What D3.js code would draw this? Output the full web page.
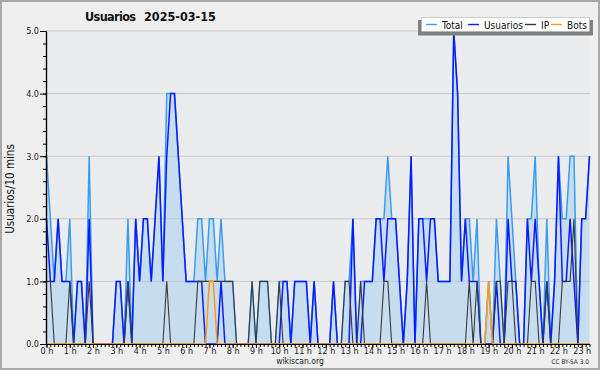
<!DOCTYPE html>
<html>
<head>
<meta charset="utf-8">
<script src="https://cdn.jsdelivr.net/npm/d3@7"></script>
<style>
  html, body { margin: 0; padding: 0; background: #efefef; }
  svg text { font-family: 'DejaVu Sans Condensed', 'DejaVu Sans', sans-serif; }
</style>
</head>
<body>
<svg id="chart" width="600" height="370"></svg>
<script>
'use strict';

/* global d3 */

// one value every 10 minutes, from 0 h 00 to 23 h 20
var usuarios = [
  2, 1, 1, 2, 1, 1, 1, 0, 1, 1, 0, 2, 0, 0, 0, 0, 0, 0, 1, 1,
  0, 1, 0, 2, 1, 2, 2, 1, 2, 3, 1, 3, 4, 4, 3, 2, 1, 1, 1, 1,
  1, 0, 0, 0, 0, 1, 0, 0, 0, 0, 0, 0, 0, 0, 0, 0, 0, 0, 0, 0,
  0, 1, 1, 0, 1, 1, 1, 1, 0, 1, 0, 0, 0, 0, 1, 0, 0, 0, 0, 2,
  0, 0, 1, 1, 1, 2, 2, 1, 2, 2, 2, 1, 0, 1, 3, 0, 2, 2, 1, 2,
  2, 1, 1, 1, 1, 5, 4, 1, 2, 1, 1, 1, 0, 0, 0, 0, 1, 0, 0, 2,
  1, 1, 0, 0, 2, 1, 2, 1, 0, 1, 0, 1, 3, 1, 1, 2, 1, 0, 2, 2,
  3
];
var total = [
  3, 2, 1, 2, 1, 1, 2, 0, 1, 1, 0, 3, 0, 0, 0, 0, 0, 0, 1, 1,
  0, 2, 0, 2, 1, 2, 2, 1, 2, 3, 1, 4, 4, 4, 3, 2, 1, 1, 1, 2,
  2, 1, 2, 2, 1, 2, 1, 1, 1, 0, 0, 0, 0, 1, 0, 1, 1, 1, 0, 0,
  1, 1, 1, 0, 1, 1, 1, 1, 0, 1, 0, 0, 0, 0, 1, 0, 0, 1, 1, 2,
  0, 1, 1, 1, 1, 2, 2, 2, 3, 2, 2, 1, 0, 1, 3, 0, 2, 2, 2, 2,
  2, 1, 1, 1, 1, 5, 4, 1, 2, 2, 1, 2, 0, 0, 1, 0, 2, 1, 0, 3,
  2, 1, 0, 0, 2, 2, 3, 1, 0, 2, 0, 1, 3, 2, 2, 3, 3, 0, 2, 2,
  3
];
var ip = [
  1, 1, 0, 0, 0, 0, 1, 0, 0, 0, 0, 1, 0, 0, 0, 0, 0, 0, 0, 0,
  0, 1, 0, 0, 0, 0, 0, 0, 0, 0, 0, 1, 0, 0, 0, 0, 0, 0, 0, 1,
  1, 1, 1, 1, 1, 1, 1, 1, 1, 0, 0, 0, 0, 1, 0, 1, 1, 1, 0, 0,
  1, 0, 0, 0, 0, 0, 0, 0, 0, 0, 0, 0, 0, 0, 0, 0, 0, 1, 1, 0,
  0, 1, 0, 0, 0, 0, 0, 1, 1, 0, 0, 0, 0, 0, 0, 0, 0, 0, 1, 0,
  0, 0, 0, 0, 0, 0, 0, 0, 0, 1, 0, 1, 0, 0, 0, 0, 1, 1, 0, 1,
  1, 0, 0, 0, 0, 1, 1, 0, 0, 1, 0, 0, 0, 1, 1, 1, 2, 0, 0, 0,
  0
];
var bots = [
  0, 0, 0, 0, 0, 0, 0, 0, 0, 0, 0, 0, 0, 0, 0, 0, 0, 0, 0, 0,
  0, 0, 0, 0, 0, 0, 0, 0, 0, 0, 0, 0, 0, 0, 0, 0, 0, 0, 0, 0,
  0, 0, 1, 1, 0, 0, 0, 0, 0, 0, 0, 0, 0, 0, 0, 0, 0, 0, 0, 0,
  0, 0, 0, 0, 0, 0, 0, 0, 0, 0, 0, 0, 0, 0, 0, 0, 0, 0, 0, 0,
  0, 0, 0, 0, 0, 0, 0, 0, 0, 0, 0, 0, 0, 0, 0, 0, 0, 0, 0, 0,
  0, 0, 0, 0, 0, 0, 0, 0, 0, 0, 0, 0, 0, 0, 1, 0, 0, 0, 0, 0,
  0, 0, 0, 0, 0, 0, 0, 0, 0, 0, 0, 0, 0, 0, 0, 0, 0, 0, 0, 0,
  0
];
var hours = d3.range(0, 24);
var yTicks = [0, 1, 2, 3, 4, 5];

var seriesNames = ['Total', 'Usuarios', 'IP', 'Bots'];
var seriesColors = ['#3a9cf0', '#0b1cff', '#3a3a3a', '#ff9a10'];

var svg = d3.select('#chart');

// background, frame and plot area
svg.append('rect')
  .attr('x', 1).attr('y', 1).attr('width', 598).attr('height', 368)
  .attr('fill', '#efefef').attr('stroke', '#a8a8a8').attr('stroke-width', 2);

var x = d3.scaleLinear().domain([0, usuarios.length - 1]).range([46.5, 589.5]);
var y = d3.scaleLinear().domain([0, 5]).range([344, 31]);

svg.append('rect')
  .attr('x', 46).attr('y', y(5)).attr('width', 544).attr('height', y(0) - y(5))
  .attr('fill', '#ebecee');


/*
 * marks
 */

// total area
svg.append('path')
  .datum(total)
  .attr('fill', '#c6ddf0')
  .attr('d', d3.area()
    .x(function(d, i) { return x(i); })
    .y0(y(0))
    .y1(function(d) { return y(d); }));

// horizontal grid
svg.append('g')
  .selectAll('line')
  .data(yTicks.slice(1))
  .join('line')
  .attr('x1', 46).attr('x2', 590)
  .attr('y1', function(d) { return y(d); })
  .attr('y2', function(d) { return y(d); })
  .attr('stroke', '#c8c8c8')
  .attr('stroke-width', 1);

// series lines, drawn in legend order so bots end up on top
var line = d3.line()
  .x(function(d, i) { return x(i); })
  .y(function(d) { return y(d); });

[total, usuarios, ip, bots].forEach(function(values, k) {
  svg.append('path')
    .datum(values)
    .attr('fill', 'none')
    .attr('stroke', seriesColors[k])
    .attr('stroke-width', k === 2 ? 1.1 : 1.5)
    .attr('stroke-linejoin', 'miter')
    .attr('d', line);
});


/*
 * axes
 */

var yAxis = svg.append('g')
  .attr('transform', 'translate(46,0)')
  .call(d3.axisLeft(y).tickValues(yTicks).tickSize(6).tickSizeOuter(0).tickPadding(1)
    .tickFormat(d3.format('.1f')));

var yMinor = svg.append('g')
  .attr('transform', 'translate(46,0)')
  .call(d3.axisLeft(y).tickValues(d3.range(0, 5.01, 0.2)).tickSize(3).tickSizeOuter(0)
    .tickFormat(''));

var xMinor = svg.append('g')
  .attr('transform', 'translate(0,344)')
  .call(d3.axisBottom(x).tickValues(d3.range(0, usuarios.length)).tickSize(3).tickSizeOuter(0)
    .tickFormat(''));

var xAxis = svg.append('g')
  .attr('transform', 'translate(0,344)')
  .call(d3.axisBottom(x).tickValues(hours.map(function(h) { return h * 6; }))
    .tickSize(4).tickSizeOuter(0).tickPadding(0)
    .tickFormat(function(d) { return (d / 6) + ' h'; }));

[yAxis, yMinor, xMinor, xAxis].forEach(function(g) {
  g.select('.domain').attr('stroke', '#000').attr('stroke-width', 1.2);
  g.selectAll('.tick line').attr('stroke', '#000');
  g.selectAll('text')
    .attr('font-family', null)
    .attr('fill', '#222')
    .style('font-size', '9px');
});

// axis title
svg.append('text')
  .attr('transform', 'translate(14,189) rotate(-90)')
  .attr('text-anchor', 'middle')
  .attr('fill', '#111')
  .style('font-size', '11.5px')
  .text('Usuarios/10 mins');


/*
 * title, legend and footer
 */

svg.append('text')
  .attr('x', 85).attr('y', 21)
  .attr('fill', '#111')
  .style('font-size', '12.5px').style('font-weight', 'bold')
  .style('letter-spacing', '-0.6px')
  .text('Usuarios');

svg.append('text')
  .attr('x', 144).attr('y', 21)
  .attr('fill', '#111')
  .style('font-size', '12.5px').style('font-weight', 'bold')
  .text('2025-03-15');

var legend = svg.append('g');

legend.append('rect')
  .attr('x', 418).attr('y', 20).attr('width', 175).attr('height', 15.5)
  .attr('fill', '#808080');

legend.append('rect')
  .attr('x', 421.5).attr('y', 17.5).attr('width', 168).attr('height', 14)
  .attr('fill', '#fff').attr('stroke', '#b0b0b0').attr('stroke-width', 0.6);

var legendX = [426, 468, 525, 551];

seriesNames.forEach(function(name, k) {
  legend.append('line')
    .attr('x1', legendX[k]).attr('x2', legendX[k] + 11)
    .attr('y1', 24.5).attr('y2', 24.5)
    .attr('stroke', seriesColors[k]).attr('stroke-width', 1.4);

  legend.append('text')
    .attr('x', legendX[k] + 16).attr('y', 28.5)
    .attr('fill', '#111')
    .style('font-size', '10px')
    .text(name);
});

svg.append('text')
  .attr('x', 300).attr('y', 364)
  .attr('text-anchor', 'middle')
  .attr('fill', '#222')
  .style('font-size', '8.5px')
  .text('wikiscan.org');

svg.append('text')
  .attr('x', 589).attr('y', 364)
  .attr('text-anchor', 'end')
  .attr('fill', '#333')
  .style('font-size', '6.5px')
  .text('CC BY-SA 3.0');
</script>
</body>
</html>
